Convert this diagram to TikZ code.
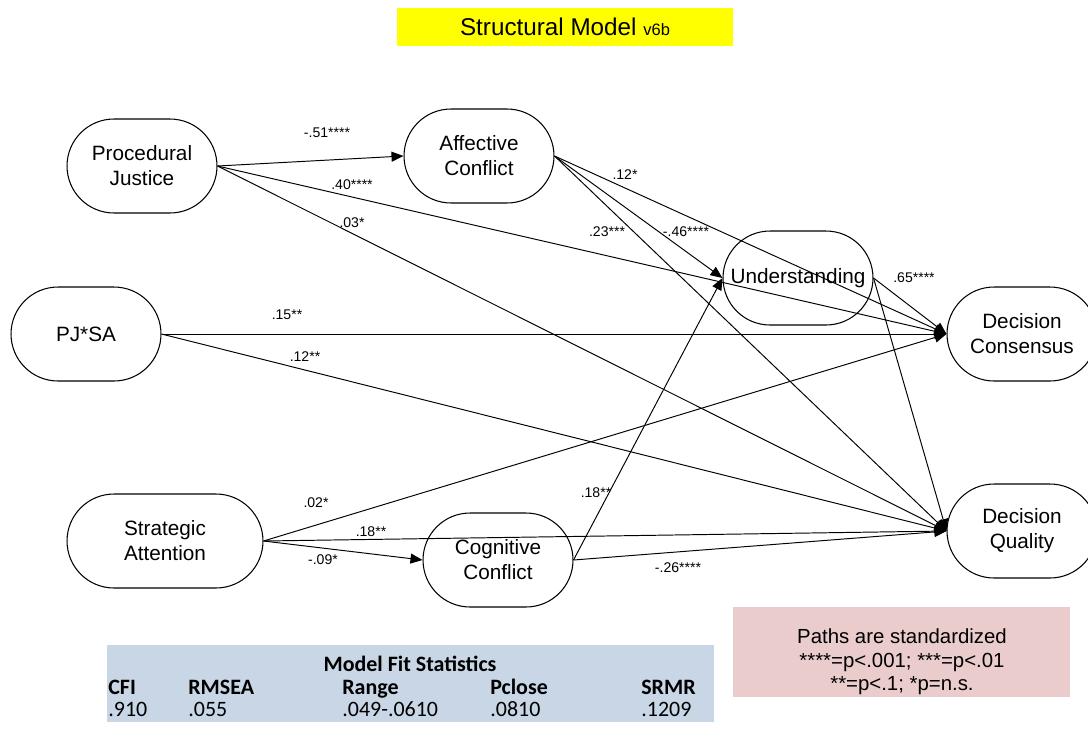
\documentclass[tikz,border=0pt]{standalone}
\usepackage{fontspec}
\setmainfont{Liberation Sans}
\newfontfamily\calibri{Carlito}
\usetikzlibrary{arrows.meta}
\definecolor{titlebg}{RGB}{255,255,0}
\definecolor{fitbg}{RGB}{200,214,230}
\definecolor{notebg}{RGB}{234,204,204}
\tikzset{
  construct/.style={draw=black, line width=0.6pt, fill=white, rounded corners=0.94cm,
              minimum width=3cm, minimum height=1.88cm, inner sep=0pt,
              align=center, font=\fontsize{11.8}{14.2}\selectfont},
  effect/.style={-{Triangle[length=2.4mm, width=2mm]}, line width=0.55pt},
  coef/.style={font=\fontsize{8}{9}\selectfont, inner sep=0pt},
  titlebox/.style={fill=titlebg, minimum width=6.74cm, minimum height=0.76cm,
              font=\fontsize{13.8}{16}\selectfont},
  fithead/.style={font=\calibri\bfseries\fontsize{12.5}{14}\selectfont, anchor=base west, inner sep=0pt},
  fitval/.style={font=\calibri\fontsize{12.5}{14}\selectfont, anchor=base west, inner sep=0pt},
  notetxt/.style={align=center, font=\fontsize{11.6}{13.3}\selectfont},
}

\begin{document}
\begin{tikzpicture}[x=0.02cm, y=-0.02cm]
    \useasboundingbox (0,0) rectangle (1088,741);
    \node[titlebox] (title) at (565,27) {Structural Model {\fontsize{9.4}{10}\selectfont v6b}};

    % constructs
    \node[construct] (pj) at (142,166) {Procedural\\Justice};
    \node[construct] (ac) at (479,156) {Affective\\Conflict};
    \node[construct] (pjsa) at (86,334) {PJ*SA};
    \node[construct] (u) at (798,278) {Understanding};
    \node[construct] (dc) at (1022,334) {Decision\\Consensus};
    \node[construct, minimum width=3.92cm] (sa) at (165,541) {Strategic\\Attention};
    \node[construct] (cc) at (498,560) {Cognitive\\Conflict};
    \node[construct] (dq) at (1022,531) {Decision\\Quality};

    % paths
    \draw[effect] (pj.east) -- (ac.west) node[coef] at (327,133) {-.51****};
    \draw[effect] (pj.east) -- (dc.west) node[coef] at (352,185) {.40****};
    \draw[effect] (pj.east) -- (dq.west) node[coef] at (352,223) {.03*};
    \draw[effect] (ac.east) -- (dc.west) node[coef] at (625,175) {.12*};
    \draw[effect] (ac.east) -- (u.west) node[coef] at (686,232) {-.46****};
    \draw[effect] (ac.east) -- (dq.west) node[coef] at (607,232) {.23***};
    \draw[effect] (pjsa.east) -- (dc.west) node[coef] at (287,315) {.15**};
    \draw[effect] (pjsa.east) -- (dq.west) node[coef] at (305,357) {.12**};
    \draw[effect] (u.east) -- (dc.west) node[coef] at (914,278) {.65****};
    \draw[effect] (u.east) -- (dq.west);
    \draw[effect] (sa.east) -- (dc.west) node[coef] at (316,503) {.02*};
    \draw[effect] (sa.east) -- (dq.west) node[coef] at (371,532) {.18**};
    \draw[effect] (sa.east) -- (cc.west) node[coef] at (323,560) {-.09*};
    \draw[effect] (cc.east) -- (u.west) node[coef] at (596,493) {.18**};
    \draw[effect] (cc.east) -- (dq.west) node[coef] at (678,568) {-.26****};

    % fit statistics
    \fill[fitbg] (107,645) rectangle (714,722);
    \node[fithead, anchor=base] (fit) at (410,671) {Model Fit Statistics};
    \node[fithead] (cfi) at (108,694) {CFI};
    \node[fithead] (rmsea) at (188,694) {RMSEA};
    \node[fithead] (range) at (342,694) {Range};
    \node[fithead] (pclose) at (490,694) {Pclose};
    \node[fithead] (srmr) at (641,694) {SRMR};
    \node[fitval] at (108,716) {.910};
    \node[fitval] at (188,716) {.055};
    \node[fitval] at (342,716) {.049-.0610};
    \node[fitval] at (490,716) {.0810};
    \node[fitval] at (641,716) {.1209};

    % note
    \fill[notebg] (733,607) rectangle (1070,697);
    \node[notetxt] (note) at (902,662) {Paths are standardized\\****=p<.001; ***=p<.01\\**=p<.1; *p=n.s.};
\end{tikzpicture}
\end{document}
